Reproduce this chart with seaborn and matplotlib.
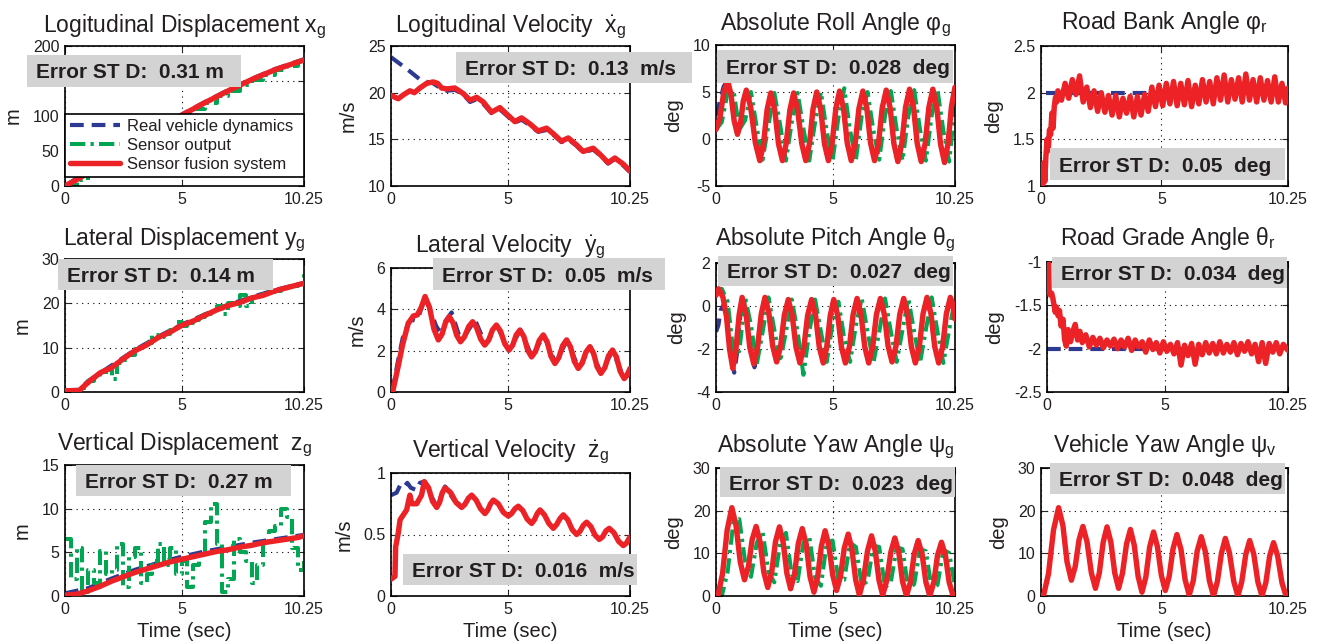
import matplotlib
matplotlib.use("Agg")
import matplotlib.pyplot as plt
from matplotlib.patches import Rectangle
from matplotlib.lines import Line2D
import seaborn as sns

# ---- data (time in s, value) ----
long_disp_real = [(0, 0), (0.5, 11), (1, 22), (2, 43), (3, 63), (4, 83), (5, 102), (6, 120), (7, 137), (8, 153), (9, 167), (10.25, 181)]
long_disp_sensor = [(0, 0), (0.5, 8), (1, 19), (1.5, 30), (2, 40), (2.5, 50), (3, 61), (3.5, 71), (4, 81), (4.5, 91), (5, 101), (5.5, 110),
                    (6, 119), (6.5, 128), (7, 136), (7.5, 144), (8, 152), (8.5, 159), (9, 166), (9.5, 172), (10, 178), (10.25, 181)]
long_disp_fusion = [(0, 0), (0.5, 9), (1, 19), (2, 40), (3, 61), (4, 81), (5, 101), (6, 119), (7, 136), (8, 152), (9, 166), (10.25, 180)]

long_vel_real = [(0.0, 23.8), (0.7, 22.5), (1.3, 21.3), (1.81, 21.0), (2.17, 20.4), (2.39, 20.2), (2.74, 20.3), (3.1, 19.8), (3.39, 19.0),
                 (3.67, 19.3), (3.96, 18.8), (4.31, 17.8), (4.67, 18.2), (5.03, 17.4), (5.31, 16.8), (5.6, 17.1), (5.96, 16.5), (6.31, 15.8),
                 (6.67, 16.0), (6.96, 15.5), (7.31, 14.7), (7.6, 15.0), (7.96, 14.3), (8.24, 13.6), (8.67, 13.9), (8.96, 13.3), (9.31, 12.4),
                 (9.6, 12.9), (9.96, 12.2), (10.25, 11.5)]
long_vel_fusion = [(0.0, 19.7), (0.31, 19.35), (0.55, 19.8), (0.81, 20.2), (1.0, 20.0), (1.24, 20.5), (1.53, 21.0), (1.81, 21.15), (2.0, 21.0),
                   (2.17, 20.5), (2.39, 20.4), (2.74, 20.5), (3.1, 19.9), (3.39, 19.2), (3.67, 19.5), (3.96, 19.0), (4.31, 17.9), (4.67, 18.4),
                   (5.03, 17.55), (5.31, 16.9), (5.6, 17.3), (5.96, 16.65), (6.31, 15.9), (6.67, 16.2), (6.96, 15.6), (7.31, 14.8), (7.6, 15.15),
                   (7.96, 14.4), (8.24, 13.7), (8.67, 14.05), (8.96, 13.4), (9.31, 12.5), (9.6, 13.0), (9.96, 12.35), (10.25, 11.6)]

roll_fusion = [(0.0, 1.0), (0.17, 2.3), (0.33, 4.9), (0.5, 6.2), (0.64, 4.78), (0.78, 1.93), (0.92, 0.5), (1.05, 1.68), (1.17, 4.03), (1.3, 5.2),
               (1.49, 3.33), (1.69, -0.43), (1.88, -2.3), (2.04, -0.5), (2.19, 3.1), (2.35, 4.9), (2.52, 3.1), (2.68, -0.5), (2.85, -2.3),
               (3.01, -0.5), (3.17, 3.1), (3.33, 4.9), (3.5, 3.1), (3.68, -0.5), (3.85, -2.3), (4.01, -0.48), (4.16, 3.18), (4.32, 5.0),
               (4.49, 3.18), (4.65, -0.48), (4.82, -2.3), (4.98, -0.45), (5.14, 3.25), (5.3, 5.1), (5.47, 3.25), (5.63, -0.45), (5.8, -2.3),
               (5.97, -0.45), (6.13, 3.25), (6.3, 5.1), (6.47, 3.25), (6.63, -0.45), (6.8, -2.3), (6.97, -0.43), (7.13, 3.33), (7.3, 5.2),
               (7.47, 3.3), (7.63, -0.5), (7.8, -2.4), (7.97, -0.48), (8.13, 3.38), (8.3, 5.3), (8.47, 3.38), (8.63, -0.48), (8.8, -2.4),
               (8.97, -0.48), (9.13, 3.38), (9.3, 5.3), (9.47, 3.35), (9.63, -0.55), (9.8, -2.5), (9.95, -0.5), (10.1, 3.5), (10.25, 5.5)]
roll_real = [(0.0, 2.5), (0.17, 4.0), (0.33, 5.6)] + roll_fusion[3:]
roll_sensor = [(0.0, 1.0), (0.25, 1.8), (0.5, 5.0), (0.75, 5.2), (1.0, 1.0), (1.25, 2.0), (1.5, 5.0), (1.75, 1.2), (2.0, -2.2), (2.25, 1.5),
               (2.5, 4.9), (2.75, 1.5), (3.0, -2.3), (3.25, 1.8), (3.5, 4.9), (3.75, 1.1), (4.0, -2.3), (4.25, 1.8), (4.5, 5.0), (4.75, 0.8),
               (5.0, -2.3), (5.25, 2.3), (5.5, 5.4), (5.75, 0.9), (6.0, -2.2), (6.25, 2.5), (6.5, 5.0), (6.75, 0.9), (7.0, -2.2), (7.25, 2.5),
               (7.5, 5.1), (7.75, 1.0), (8.0, -2.3), (8.25, 2.5), (8.5, 5.2), (8.75, 1.0), (9.0, -2.3), (9.25, 2.5), (9.5, 5.2), (9.75, 0.9),
               (10.0, -2.4), (10.25, 3.5)]

bank_real = [(0.2, 2.0), (10.25, 2.0)]
bank_fusion = [(0.0, 1.0), (0.04, 1.22), (0.08, 1.02), (0.12, 1.25), (0.16, 1.05), (0.2, 1.3), (0.25, 1.5), (0.3, 1.38), (0.35, 1.6), (0.4, 1.55),
               (0.45, 1.78), (0.5, 1.62), (0.55, 1.85), (0.6, 1.95), (0.65, 1.9), (0.7, 2.02), (0.85, 1.92), (1.0, 2.1), (1.15, 1.94), (1.3, 2.14),
               (1.45, 1.98), (1.6, 2.18), (1.75, 1.9), (1.9, 2.06), (2.05, 1.84), (2.2, 2.02), (2.35, 1.8), (2.5, 2.0), (2.65, 1.79), (2.8, 1.97),
               (2.95, 1.76), (3.1, 1.97), (3.25, 1.74), (3.4, 1.94), (3.55, 1.78), (3.7, 1.96), (3.85, 1.74), (4.0, 1.96), (4.15, 1.76), (4.3, 1.98),
               (4.45, 1.8), (4.6, 2.06), (4.75, 1.85), (4.9, 2.08), (5.05, 1.86), (5.2, 2.1), (5.35, 1.88), (5.5, 2.12), (5.65, 1.86), (5.8, 2.1),
               (5.95, 1.87), (6.1, 2.13), (6.25, 1.85), (6.4, 2.08), (6.55, 1.88), (6.7, 2.14), (6.85, 1.9), (7.0, 2.12), (7.15, 1.88), (7.3, 2.16),
               (7.45, 1.92), (7.6, 2.19), (7.75, 1.9), (7.9, 2.14), (8.05, 1.93), (8.2, 2.16), (8.35, 1.9), (8.5, 2.2), (8.65, 1.92), (8.8, 2.14),
               (8.95, 1.9), (9.1, 2.16), (9.25, 1.92), (9.4, 2.13), (9.55, 1.9), (9.7, 2.17), (9.85, 1.9), (10.0, 2.1), (10.15, 1.89), (10.25, 2.05)]

lat_disp_real = [(0, 0.4), (0.6, 0.5), (1, 2.5), (2, 6.0), (3, 9.5), (4, 12.5), (5, 15.2), (6, 17.5), (7, 19.7), (8, 21.4), (9, 23.0), (10.25, 24.6)]
lat_disp_sensor = [(0, 0.3), (0.25, 0.3), (0.5, 0.3), (0.75, 1.0), (1.0, 2.5), (1.25, 3.2), (1.5, 4.0), (1.75, 5.0), (2.0, 3.0), (2.25, 6.5),
                   (2.5, 7.3), (2.75, 8.4), (3.0, 9.6), (3.25, 10.0), (3.5, 11.0), (3.75, 12.8), (4.0, 12.5), (4.25, 13.0), (4.5, 14.0),
                   (4.75, 15.8), (5.0, 15.0), (5.25, 15.5), (5.5, 16.2), (5.75, 17.0), (6.0, 17.5), (6.25, 17.8), (6.5, 19.5), (6.75, 17.5),
                   (7.0, 20.0), (7.25, 19.3), (7.5, 21.8), (7.75, 19.5), (8.0, 21.4), (8.25, 21.6), (8.5, 22.0), (8.75, 22.5), (9.0, 22.8),
                   (9.25, 23.0), (9.5, 23.6), (9.75, 24.0), (10.0, 24.3), (10.25, 27.0)]
lat_disp_fusion = [(0, 0.3), (0.6, 0.3), (1.0, 2.2), (1.5, 4.3), (2.0, 5.5), (2.5, 7.5), (3.0, 9.3), (3.5, 10.6), (4.0, 12.3), (4.5, 13.5),
                   (5.0, 15.0), (5.5, 16.0), (6.0, 17.3), (6.5, 18.5), (7.0, 19.5), (7.5, 20.2), (8.0, 21.2), (8.5, 21.8), (9.0, 22.8),
                   (9.5, 23.5), (10.0, 24.2), (10.25, 24.5)]

lat_vel_real = [(0.05, 0.0), (0.3, 1.5), (0.5, 2.6), (0.74, 3.3), (0.9, 3.5), (1.05, 3.45), (1.2, 3.7), (1.46, 4.6), (1.7, 3.9), (2.0, 3.0),
                (2.25, 3.3), (2.6, 3.85), (2.9, 2.8), (3.1, 2.6), (3.6, 3.5), (4.05, 2.3), (4.55, 3.2), (5.05, 2.0), (5.55, 3.0), (6.05, 1.7),
                (6.55, 2.75), (7.05, 1.4), (7.55, 2.5), (8.05, 1.15), (8.55, 2.2), (9.0, 0.9), (9.5, 2.0), (10.0, 0.65), (10.25, 1.1)]
lat_vel_fusion = [(0.07, 0.0), (0.3, 1.2), (0.5, 2.3), (0.74, 3.33), (0.96, 3.68), (1.13, 3.73), (1.3, 4.1), (1.46, 4.62), (1.65, 4.1),
                  (1.84, 3.05), (2.03, 2.52), (2.19, 2.8), (2.34, 3.37), (2.5, 3.65), (2.66, 3.35), (2.82, 2.74), (2.98, 2.43), (3.15, 2.67),
                  (3.33, 3.16), (3.5, 3.4), (3.67, 3.12), (3.85, 2.55), (4.02, 2.27), (4.19, 2.51), (4.35, 3.0), (4.52, 3.24), (4.7, 2.94),
                  (4.88, 2.33), (5.06, 2.03), (5.22, 2.27), (5.37, 2.76), (5.53, 3.0), (5.7, 2.68), (5.86, 2.03), (6.03, 1.7), (6.2, 1.97),
                  (6.36, 2.5), (6.53, 2.76), (6.7, 2.42), (6.86, 1.73), (7.03, 1.38), (7.2, 1.67), (7.36, 2.24), (7.53, 2.52), (7.7, 2.18),
                  (7.86, 1.49), (8.03, 1.14), (8.2, 1.4), (8.36, 1.93), (8.53, 2.19), (8.69, 1.87), (8.84, 1.22), (9.0, 0.9), (9.17, 1.18),
                  (9.33, 1.75), (9.5, 2.03), (9.67, 1.69), (9.83, 1.0), (10.0, 0.65), (10.12, 0.8), (10.25, 1.14)]

pitch_fusion = [(0.0, 0.5), (0.12, 0.8), (0.3, 0.4), (0.45, -0.5), (0.58, -2.0), (0.72, -2.9), (0.85, -2.08), (0.99, -0.43), (1.12, 0.4),
                (1.29, -0.38), (1.45, -1.93), (1.62, -2.7), (1.78, -1.93), (1.94, -0.38), (2.1, 0.4), (2.27, -0.35), (2.43, -1.85), (2.6, -2.6),
                (2.77, -1.88), (2.93, -0.43), (3.1, 0.3), (3.27, -0.44), (3.43, -1.91), (3.6, -2.65), (3.77, -1.91), (3.93, -0.44), (4.1, 0.3),
                (4.27, -0.44), (4.43, -1.91), (4.6, -2.65), (4.75, -1.91), (4.9, -0.44), (5.05, 0.3), (5.22, -0.44), (5.38, -1.91), (5.55, -2.65),
                (5.72, -1.9), (5.88, -0.4), (6.05, 0.35), (6.22, -0.4), (6.38, -1.9), (6.55, -2.65), (6.72, -1.9), (6.88, -0.4), (7.05, 0.35),
                (7.22, -0.39), (7.38, -1.86), (7.55, -2.6), (7.72, -1.86), (7.88, -0.39), (8.05, 0.35), (8.22, -0.4), (8.38, -1.9), (8.55, -2.65),
                (8.72, -1.89), (8.88, -0.36), (9.05, 0.4), (9.22, -0.36), (9.38, -1.89), (9.55, -2.65), (9.72, -1.89), (9.88, -0.36), (10.05, 0.4),
                (10.15, 0.11), (10.25, -0.6)]
pitch_real = [(0.0, -1.2), (0.1, -0.9), (0.2, -0.2), (0.35, 0.1), (0.5, -0.8), (0.65, -2.4), (0.78, -3.1), (0.9, -2.2), (1.0, -0.9),
              (1.12, 0.4), (1.3, -0.4), (1.45, -1.9), (1.65, -2.85), (1.8, -1.9), (1.95, -0.4)] + pitch_fusion[14:]
pitch_sensor = [(0.0, 0.5), (0.25, 0.8), (0.5, 0.2), (0.75, -2.2), (1.0, -2.1), (1.25, 0.4), (1.5, -0.9), (1.75, -2.7), (2.0, -1.2), (2.25, 0.4),
                (2.5, -1.1), (2.75, -2.6), (3.0, -1.2), (3.25, 0.3), (3.5, -1.2), (3.75, -3.2), (4.0, -1.2), (4.25, 0.3), (4.5, -1.2), (4.75, -2.6),
                (5.0, -0.8), (5.25, 0.2), (5.5, -1.5), (5.75, -2.6), (6.0, -0.9), (6.25, 0.35), (6.5, -1.2), (6.75, -2.65), (7.0, -1.2), (7.25, 0.35),
                (7.5, -1.2), (7.75, -2.6), (8.0, -1.1), (8.25, 0.35), (8.5, -1.2), (8.75, -2.65), (9.0, -1.1), (9.25, 0.4), (9.5, -1.2), (9.75, -2.65),
                (10.0, -1.1), (10.25, 0.3)]

grade_real = [(0.0, -2.0), (10.25, -2.0)]
grade_fusion = [(0.07, -1.0), (0.09, -1.35), (0.14, -1.38), (0.2, -1.36), (0.25, -1.42), (0.3, -1.5), (0.35, -1.58), (0.4, -1.52), (0.47, -1.62),
                (0.53, -1.56), (0.6, -1.74), (0.68, -1.66), (0.75, -1.9), (0.82, -1.97), (0.9, -1.78), (1.0, -1.92), (1.1, -1.8), (1.2, -1.72),
                (1.3, -1.9), (1.4, -1.8), (1.5, -1.93), (1.65, -1.84), (1.8, -1.98), (1.95, -1.87), (2.1, -1.96), (2.25, -1.88), (2.4, -1.99),
                (2.55, -1.9), (2.7, -1.97), (2.85, -1.89), (3.0, -2.0), (3.15, -1.9), (3.3, -1.98), (3.45, -1.88), (3.6, -2.02), (3.75, -1.9),
                (3.9, -1.98), (4.05, -1.92), (4.2, -2.04), (4.35, -1.9), (4.5, -2.01), (4.65, -1.93), (4.8, -2.05), (4.95, -1.92), (5.1, -2.03),
                (5.25, -1.95), (5.4, -2.06), (5.55, -1.93), (5.7, -2.19), (5.85, -1.96), (6.0, -2.08), (6.15, -1.94), (6.3, -2.18), (6.45, -1.95),
                (6.6, -2.07), (6.75, -1.93), (6.9, -2.05), (7.05, -1.94), (7.2, -2.06), (7.35, -1.92), (7.5, -2.05), (7.65, -1.95), (7.8, -2.04),
                (7.95, -1.93), (8.1, -2.07), (8.25, -1.94), (8.4, -2.03), (8.55, -1.92), (8.7, -2.06), (8.85, -1.95), (9.0, -2.15), (9.15, -1.93),
                (9.3, -2.17), (9.45, -1.94), (9.6, -2.04), (9.75, -1.93), (9.9, -2.06), (10.05, -1.95), (10.25, -2.02)]

vert_disp_real = [(0, 0.3), (1, 0.9), (2, 2.0), (3, 3.0), (4, 3.8), (5, 4.5), (6, 5.1), (7, 5.6), (8, 6.1), (9, 6.5), (10.25, 7.0)]
vert_disp_sensor = [(0.0, 6.5), (0.25, 2.0), (0.5, 5.5), (0.75, 0.5), (1.0, 3.0), (1.25, 1.5), (1.5, 5.2), (1.75, 2.5), (2.0, 3.0), (2.25, 6.0),
                    (2.5, 1.0), (2.75, 4.5), (3.0, 5.5), (3.25, 1.5), (3.5, 2.5), (3.75, 4.0), (4.0, 6.0), (4.25, 3.5), (4.5, 5.5), (4.75, 2.5),
                    (5.0, 4.0), (5.25, 1.0), (5.5, 3.5), (5.75, 5.0), (6.0, 8.5), (6.25, 10.5), (6.5, 6.0), (6.75, 0.5), (7.0, 2.0), (7.25, 6.5),
                    (7.5, 5.0), (7.75, 4.0), (8.0, 1.5), (8.25, 3.5), (8.5, 6.0), (8.75, 7.5), (9.0, 8.0), (9.25, 10.0), (9.5, 9.0), (9.75, 5.5),
                    (10.0, 3.0), (10.25, 4.0)]
vert_disp_fusion = [(0, 0.1), (0.5, 0.2), (1, 0.6), (1.5, 1.1), (2, 1.7), (2.5, 2.2), (3, 2.7), (3.5, 3.1), (4, 3.5), (4.5, 3.9), (5, 4.2),
                    (5.5, 4.5), (6, 4.8), (6.5, 5.1), (7, 5.3), (7.5, 5.6), (8, 5.8), (8.5, 6.1), (9, 6.3), (9.5, 6.5), (10, 6.7), (10.25, 6.9)]

vert_vel_real = [(0.0, 0.82), (0.24, 0.84), (0.39, 0.9), (0.53, 0.88), (0.7, 0.92), (0.85, 0.88), (1.1, 0.86), (1.24, 0.92), (1.43, 0.93),
                 (1.7, 0.82), (1.96, 0.73), (2.32, 0.89), (2.7, 0.78), (3.03, 0.73)]
vert_vel_fusion = [(0.03, 0.14), (0.17, 0.16), (0.2, 0.4), (0.31, 0.51), (0.39, 0.62), (0.53, 0.66), (0.67, 0.7), (0.81, 0.82), (0.89, 0.75),
                   (1.1, 0.75), (1.31, 0.82), (1.43, 0.93), (1.61, 0.88), (1.78, 0.77), (1.96, 0.72), (2.08, 0.76), (2.2, 0.84), (2.32, 0.88),
                   (2.56, 0.84), (2.79, 0.76), (3.03, 0.72), (3.17, 0.745), (3.32, 0.795), (3.46, 0.82), (3.65, 0.78), (3.84, 0.71), (4.03, 0.67),
                   (4.15, 0.7), (4.27, 0.75), (4.39, 0.78), (4.6, 0.75), (4.82, 0.68), (5.03, 0.65), (5.17, 0.67), (5.32, 0.71), (5.46, 0.73),
                   (5.65, 0.695), (5.84, 0.625), (6.03, 0.59), (6.15, 0.62), (6.27, 0.67), (6.39, 0.7), (6.58, 0.66), (6.77, 0.59), (6.96, 0.55),
                   (7.1, 0.58), (7.25, 0.63), (7.39, 0.66), (7.58, 0.62), (7.77, 0.54), (7.96, 0.5), (8.1, 0.525), (8.25, 0.575), (8.39, 0.6),
                   (8.57, 0.565), (8.75, 0.495), (8.93, 0.46), (9.07, 0.48), (9.22, 0.53), (9.36, 0.55), (9.56, 0.515), (9.76, 0.445),
                   (9.96, 0.41), (10.1, 0.43), (10.25, 0.48)]

yaw_fusion = [(0.0, 0.0), (0.08, 0.0), (0.28, 5.2), (0.48, 15.5), (0.68, 20.7), (0.86, 16.5), (1.04, 8.0), (1.22, 3.8), (1.39, 6.9), (1.55, 13.2),
              (1.72, 16.3), (1.89, 12.7), (2.05, 5.6), (2.22, 2.0), (2.39, 5.6), (2.55, 12.7), (2.72, 16.2), (2.88, 12.6), (3.04, 5.3), (3.2, 1.7),
              (3.37, 5.2), (3.53, 12.3), (3.7, 15.8), (3.87, 12.1), (4.03, 4.6), (4.2, 0.9), (4.36, 4.5), (4.52, 11.7), (4.68, 15.3), (4.84, 11.8),
              (5.01, 4.8), (5.17, 1.3), (5.34, 4.6), (5.5, 11.2), (5.67, 14.5), (5.83, 10.9), (5.99, 3.8), (6.15, 0.2), (6.32, 3.7), (6.5, 10.6),
              (6.67, 14.1), (6.83, 10.6), (6.99, 3.7), (7.15, 0.2), (7.32, 3.6), (7.5, 10.3), (7.67, 13.6), (7.84, 10.2), (8.0, 3.4), (8.17, 0.0),
              (8.34, 3.3), (8.5, 9.8), (8.67, 13.0), (8.84, 9.8), (9.0, 3.3), (9.17, 0.0), (9.34, 3.2), (9.5, 9.5), (9.67, 12.6), (9.84, 9.5),
              (10.0, 3.2), (10.17, 0.0), (10.25, -1.0)]
yaw_sensor = [(0.0, 0.0), (0.25, 0.0), (0.5, 5.7), (0.75, 17.5), (1.0, 18.0), (1.25, 8.0), (1.5, 4.5), (1.75, 12.5), (2.0, 15.0), (2.25, 5.6),
              (2.5, 3.2), (2.75, 12.3), (3.0, 14.8), (3.25, 5.0), (3.5, 3.5), (3.75, 12.5), (4.0, 14.0), (4.25, 4.3), (4.5, 2.4), (4.75, 12.5),
              (5.0, 13.0), (5.25, 3.8), (5.5, 3.8), (5.75, 12.5), (6.0, 11.5), (6.25, 2.5), (6.5, 3.5), (6.75, 11.8), (7.0, 11.5), (7.25, 2.0),
              (7.5, 3.3), (7.75, 11.4), (8.0, 11.0), (8.25, 1.5), (8.5, 2.8), (8.75, 11.0), (9.0, 10.5), (9.25, 1.8), (9.5, 2.6), (9.75, 10.8),
              (10.0, 10.1), (10.25, 2.2)]

veh_yaw_fusion = [(0.0, 0.0), (0.1, 0.0), (0.31, 5.2), (0.52, 15.5), (0.73, 20.7), (0.91, 16.5), (1.08, 8.0), (1.26, 3.7), (1.42, 6.9),
                  (1.58, 13.2), (1.74, 16.3), (1.91, 12.7), (2.09, 5.4), (2.26, 1.8), (2.42, 5.4), (2.58, 12.6), (2.74, 16.2), (2.9, 12.6),
                  (3.06, 5.4), (3.22, 1.8), (3.38, 5.3), (3.55, 12.2), (3.71, 15.6), (3.87, 11.9), (4.03, 4.6), (4.19, 0.9), (4.35, 4.4),
                  (4.51, 11.5), (4.67, 15.0), (4.83, 11.6), (5.0, 4.7), (5.16, 1.3), (5.32, 4.6), (5.48, 11.1), (5.64, 14.4), (5.81, 10.9),
                  (5.98, 3.8), (6.15, 0.2), (6.32, 3.6), (6.48, 10.5), (6.65, 13.9), (6.82, 10.4), (6.99, 3.5), (7.16, 0.0), (7.32, 3.4),
                  (7.49, 10.1), (7.65, 13.5), (7.82, 10.1), (8.0, 3.4), (8.17, 0.0), (8.33, 3.3), (8.5, 9.8), (8.66, 13.0), (8.83, 9.8),
                  (9.0, 3.3), (9.17, 0.0), (9.33, 3.1), (9.49, 9.4), (9.65, 12.5), (9.82, 9.4), (10.0, 3.1), (10.17, 0.0), (10.25, -1.0)]

titles = ["Logitudinal Displacement $\\mathregular{x_g}$", "Logitudinal Velocity  $\\mathregular{\\dot{x}_g}$",
          "Absolute Roll Angle $\\mathregular{φ_g}$", "Road Bank Angle $\\mathregular{φ_r}$",
          "Lateral Displacement $\\mathregular{y_g}$", "Lateral Velocity  $\\mathregular{\\dot{y}_g}$",
          "Absolute Pitch Angle $\\mathregular{θ_g}$", "Road Grade Angle $\\mathregular{θ_r}$",
          "Vertical Displacement  $\\mathregular{z_g}$", "Vertical Velocity  $\\mathregular{\\dot{z}_g}$",
          "Absolute Yaw Angle $\\mathregular{ψ_g}$", "Vehicle Yaw Angle $\\mathregular{ψ_v}$"]
units = ["m", "m/s", "deg", "deg", "m", "m/s", "deg", "deg", "m", "m/s", "deg", "deg"]
error_std = ["0.31", "0.13", "0.028", "0.05", "0.14", "0.05", "0.027", "0.034", "0.27", "0.016", "0.023", "0.048"]
y_ticks = [[0, 50, 100, 150, 200], [10, 15, 20, 25], [-5, 0, 5, 10], [1, 1.5, 2, 2.5],
           [0, 10, 20, 30], [0, 2, 4, 6], [-4, -2, 0, 2], [-2.5, -2, -1.5, -1],
           [0, 5, 10, 15], [0, 0.5, 1], [0, 10, 20, 30], [0, 10, 20, 30]]
hidden_ytick = {0: 150}  # covered by the error box in the reference
x_ticks = [0, 5, 10.25]
legend_labels = ["Real vehicle dynamics", "Sensor output", "Sensor fusion system"]

series = [(long_disp_real, long_disp_sensor, long_disp_fusion), (long_vel_real, None, long_vel_fusion),
          (roll_real, roll_sensor, roll_fusion), (bank_real, None, bank_fusion),
          (lat_disp_real, lat_disp_sensor, lat_disp_fusion), (lat_vel_real, None, lat_vel_fusion),
          (pitch_real, pitch_sensor, pitch_fusion), (grade_real, None, grade_fusion),
          (vert_disp_real, vert_disp_sensor, vert_disp_fusion), (vert_vel_real, None, vert_vel_fusion),
          (None, yaw_sensor, yaw_fusion), (None, None, veh_yaw_fusion)]
stepped_sensor = {0, 4, 8}

# ---- layout (pixel boxes: left, top, right, bottom) ----
W, H = 1323, 644
axes_px = [(65, 46, 304, 186), (391, 46, 630, 186), (716, 45, 955, 186), (1041, 46, 1288, 186),
           (65, 259, 304, 392), (391, 268, 630, 392), (716, 263, 955, 392), (1047, 262, 1288, 392),
           (65, 465, 304, 596), (391, 473, 630, 596), (716, 468, 955, 596), (1041, 468, 1288, 596)]
title_base = [32, 32, 30, 29, 245, 252, 245, 245, 450, 457, 452, 452]
box_px = [(27, 55, 241, 87), (456, 52, 692, 83), (717, 50, 953, 83), (1050, 148, 1285, 180),
          (58, 259, 273, 290), (433, 258, 665, 290), (718, 256, 953, 286), (1052, 257, 1287, 288),
          (76, 465, 291, 496), (403, 554, 637, 585), (720, 467, 955, 497), (1050, 463, 1285, 494)]

BLUE, GREEN, RED = "#2d3a92", "#00a651", "#ec2227"
TXT = "#231f20"
styles = [dict(color=BLUE, linewidth=3.0, linestyle=(0, (3.3, 1.9)), zorder=2),
          dict(color=GREEN, linewidth=2.9, linestyle=(0, (3.8, 1.3, 0.8, 1.3)), zorder=2.5),
          dict(color=RED, linewidth=3.9, linestyle="-", solid_joinstyle="round", zorder=3)]

sns.set_style("ticks", {"axes.edgecolor": "black", "xtick.direction": "in", "ytick.direction": "in"})
plt.rcParams["font.family"] = ["Liberation Sans", "DejaVu Sans"]
plt.rcParams["mathtext.fontset"] = "custom"
plt.rcParams["mathtext.rm"] = "Liberation Sans"
plt.rcParams["mathtext.it"] = "Liberation Sans:italic"
plt.rcParams["mathtext.fallback"] = "stixsans"

fig = plt.figure(figsize=(W / 100, H / 100), dpi=100)

for i in range(12):
    l, t, r, b = axes_px[i]
    ax = fig.add_axes([l / W, 1 - b / H, (r - l) / W, (b - t) / H])
    for k, (pts, st) in enumerate(zip(series[i], styles)):
        if pts is None:
            continue
        kw = dict(st)
        if k == 1 and i in stepped_sensor:
            kw["drawstyle"] = "steps-post"
        xs, ys = zip(*pts)
        sns.lineplot(x=list(xs), y=list(ys), ax=ax, estimator=None, sort=False, **kw)
    ax.set_xlim(0, 10.25)
    ax.set_ylim(y_ticks[i][0], y_ticks[i][-1])
    ax.set_xticks(x_ticks)
    ax.set_xticklabels(["%g" % v for v in x_ticks])
    ax.set_yticks(y_ticks[i])
    ax.set_yticklabels(["" if hidden_ytick.get(i) == v else "%g" % v for v in y_ticks[i]])
    ax.grid(True, color="black", linestyle=(0, (1, 4)), linewidth=0.8)
    ax.tick_params(direction="in", top=True, right=True, length=4, width=0.8,
                   labelsize=11.5, labelcolor=TXT, pad=4)
    for sp in ax.spines.values():
        sp.set_linewidth(1.2)
        sp.set_color("black")
    ax.set_ylabel(units[i], fontsize=14.5, color=TXT, labelpad=7)
    ax.set_xlabel("Time (sec)" if i >= 8 else "", fontsize=14.5, color=TXT, labelpad=4)
    fig.text((l + r) / 2 / W, 1 - title_base[i] / H, titles[i], fontsize=16.5, color=TXT,
             ha="center", va="baseline")

    if i == 0:
        handles = [Line2D([], [], **{k: v for k, v in st.items() if k != "zorder"}) for st in styles]
        leg = ax.legend(handles, legend_labels, loc="lower left", bbox_to_anchor=(0, 0.064, 1, 0.5),
                        mode="expand", borderaxespad=0, fontsize=12, frameon=True, fancybox=False,
                        edgecolor="black", framealpha=1, handlelength=3, labelspacing=0.25,
                        borderpad=0.3, handletextpad=0.4)
        leg.get_frame().set_linewidth(1.2)
        for txt in leg.get_texts():
            txt.set_color(TXT)

    x0, y0, x1, y1 = box_px[i]
    fig.add_artist(Rectangle((x0 / W, 1 - y1 / H), (x1 - x0) / W, (y1 - y0) / H, transform=fig.transFigure,
                             facecolor="#d3d3d3", edgecolor="none", zorder=5))
    gap = " " if units[i] == "m" else "  "
    fig.text((x0 + 9) / W, 1 - ((y0 + y1) / 2 + 7.5) / H, "Error ST D:  " + error_std[i] + gap + units[i],
             fontsize=15, fontweight="bold", color=TXT, ha="left", va="baseline", zorder=6)

fig.savefig("out.png", dpi=100)
